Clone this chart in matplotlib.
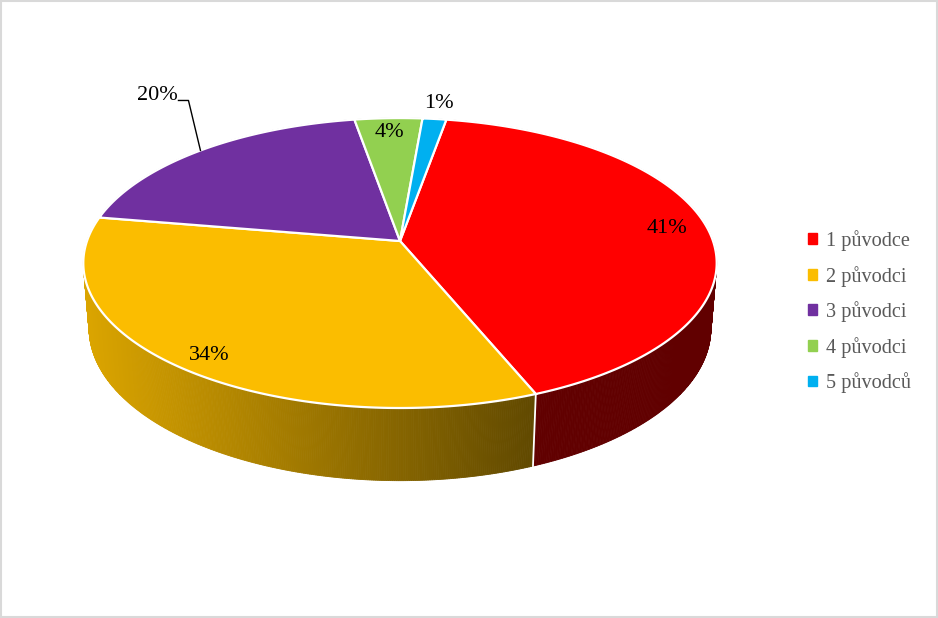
import numpy as np
import matplotlib.pyplot as plt
from matplotlib.patches import Polygon, Patch, Rectangle

# data
labels = ["1 původce", "2 původci", "3 původci", "4 původci", "5 původců"]
values = [41.2, 33.8, 19.6, 4.0, 1.4]
colors = ["#FF0000", "#FBBD00", "#7030A0", "#92D050", "#00B0F0"]

# 3D look of the pie (pixel units)
cx, cy = 400, 241
R = 313
h = 74
alpha = np.radians(26.9)
f = 1836
start = 9.8


def proj(theta, r=R, y3=0.0):
    th = np.radians(theta)
    X = r * np.sin(th)
    Z = r * np.cos(th)
    up = y3 * np.cos(alpha) + Z * np.sin(alpha)
    depth = Z * np.cos(alpha) - y3 * np.sin(alpha)
    s = f / (f + depth)
    return cx + X * s, cy - up * s


def shade(sx):
    return max(0.38, 0.87 - 0.49 * (sx - 87) / (540 - 87))


fig = plt.figure(figsize=(9.38, 6.18), dpi=100)
ax = fig.add_axes([0, 0, 1, 1])
ax.set_xlim(0, 938)
ax.set_ylim(618, 0)
ax.axis("off")

fracs = np.array(values) / sum(values)
edges = start + 360 * np.concatenate([[0], np.cumsum(fracs)])

# side walls
quads = []
for i in range(len(values)):
    ts = np.linspace(edges[i], edges[i + 1], max(3, int((edges[i + 1] - edges[i]) * 3)))
    base = np.array(plt.matplotlib.colors.to_rgb(colors[i]))
    for t0, t1 in zip(ts[:-1], ts[1:]):
        p = [proj(t0), proj(t1), proj(t1, y3=-h), proj(t0, y3=-h)]
        tm = np.radians((t0 + t1) / 2)
        depth = R * np.cos(tm)
        sx = (p[0][0] + p[1][0]) / 2
        col = base * shade(sx)
        quads.append((depth, p, col))
quads.sort(key=lambda q: -q[0])
for _, p, col in quads:
    ax.add_patch(Polygon(p, closed=True, facecolor=col, edgecolor=col, lw=0.6))

# white seams on the side (drawn under the top faces)
for e in edges[:-1]:
    a = proj(e)
    b = proj(e, y3=-h)
    ax.plot([a[0], b[0]], [a[1], b[1]], color="white", lw=1.3, zorder=1)

# top faces
for i in range(len(values)):
    ts = np.linspace(edges[i], edges[i + 1], 200)
    pts = [(cx, cy)] + [proj(t) for t in ts]
    ax.add_patch(Polygon(pts, closed=True, facecolor=colors[i], edgecolor="white", lw=1.6, zorder=1))

# data labels
mids = (edges[:-1] + edges[1:]) / 2
pct = [f"{round(v):d}%" for v in values]
font = dict(family="Liberation Serif", fontsize=16, color="black")
label_r = [0.87, 0.87, None, 0.87, 1.15]
label_dy = [0, 8, 0, 0, 0]
for i in [0, 1, 3, 4]:
    x, y = proj(mids[i], r=label_r[i] * R)
    ax.text(x, y + label_dy[i], pct[i], ha="center", va="center", **font)
# leader line for the purple slice
rx, ry = proj(mids[2])
ax.plot([rx, rx - 12, rx - 22], [ry, ry - 50, ry - 50], color="black", lw=1)
ax.text(rx - 23, ry - 55, pct[2], ha="right", va="center", **font)

# legend
handles = [Patch(facecolor=c, edgecolor=c) for c in colors]
ax.legend(handles, labels, loc="upper left", bbox_to_anchor=(790, 212),
          bbox_transform=ax.transData, frameon=False, handlelength=0.45,
          handleheight=0.45, handletextpad=0.45, labelspacing=0.72,
          prop={"family": "Liberation Serif", "size": 14.6}, labelcolor="#595959")

ax.add_patch(Rectangle((0.8, 0.8), 936.4, 616.4, fill=False, edgecolor="#D9D9D9", lw=1.5))

plt.savefig("out.png", dpi=100)
